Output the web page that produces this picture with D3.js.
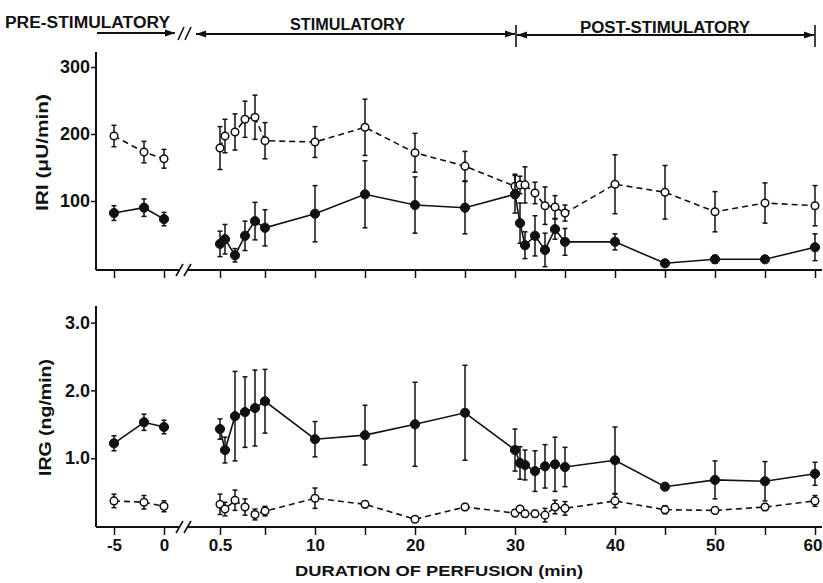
<!DOCTYPE html>
<html>
<head>
<meta charset="utf-8">
<script src="https://cdn.jsdelivr.net/npm/d3@7"></script>
<style>
  body { margin: 0; background: white; }
  text { font-family: "Liberation Sans", Arial, sans-serif; font-weight: bold; fill: #111; }
</style>
</head>
<body>
<svg id="chart" width="823" height="583"></svg>
<script>
// times (min)
var preTimes = [-5, -2, 0];
var mainTimes = [0.5, 1, 2, 3, 4, 5, 10, 15, 20, 25, 30, 30.5, 31, 32, 33, 34, 35, 40, 45, 50, 55, 60];

// IRI (uU/min), filled circles
var iriFilledPre = [82, 90, 73];
var iriFilledPreErr = [11, 13, 10];
var iriFilled = [36, 43, 19, 48, 70, 60, 81, 110, 94, 90, 110, 67, 34, 48, 27, 58, 39, 39, 7, 13, 13, 31];
var iriFilledErr = [19, 22, 10, 22, 28, 27, 42, 50, 42, 39, 28, 30, 20, 30, 25, 15, 20, 12, 3, 6, 4, 20];

// IRI, open circles
var iriOpenPre = [197, 173, 163];
var iriOpenPreErr = [16, 16, 14];
var iriOpen = [179, 197, 203, 222, 225, 190, 188, 210, 172, 152, 122, 124, 124, 112, 93, 91, 82, 125, 113, 84, 97, 93];
var iriOpenErr = [32, 25, 27, 27, 33, 27, 23, 42, 29, 22, 18, 13, 27, 16, 28, 17, 12, 44, 40, 30, 30, 30];

// IRG (ng/min), filled circles
var irgFilledPre = [1.22, 1.53, 1.46];
var irgFilledPreErr = [0.11, 0.12, 0.1];
var irgFilled = [1.43, 1.12, 1.62, 1.68, 1.74, 1.84, 1.28, 1.34, 1.5, 1.67, 1.12, 0.93, 0.9, 0.81, 0.88, 0.91, 0.87, 0.97, 0.58, 0.68, 0.66, 0.77];
var irgFilledErr = [0.15, 0.19, 0.66, 0.52, 0.56, 0.47, 0.26, 0.44, 0.62, 0.7, 0.31, 0.24, 0.22, 0.3, 0.32, 0.4, 0.29, 0.49, 0.05, 0.28, 0.29, 0.17];

// IRG, open circles
var irgOpenPre = [0.37, 0.35, 0.29];
var irgOpenPreErr = [0.1, 0.1, 0.08];
var irgOpen = [0.32, 0.25, 0.38, 0.28, 0.17, 0.22, 0.41, 0.32, 0.1, 0.28, 0.19, 0.25, 0.18, 0.18, 0.16, 0.28, 0.26, 0.37, 0.24, 0.23, 0.28, 0.37];
var irgOpenErr = [0.15, 0.1, 0.15, 0.12, 0.08, 0.07, 0.15, 0.05, 0.04, 0.05, 0.05, 0.05, 0.05, 0.05, 0.1, 0.1, 0.1, 0.1, 0.06, 0.05, 0.05, 0.08];

var preTicks = [-5, 0];
var mainTicks = [0.5, 5, 10, 15, 20, 25, 30, 35, 40, 45, 50, 55, 60];
var mainTickLabels = {0.5: '0.5', 10: '10', 20: '20', 30: '30', 40: '40', 50: '50', 60: '60'};
var iriTicks = [100, 200, 300];
var irgTicks = [1, 2, 3];

var svg = d3.select('#chart');
var ink = '#111';

var xPre = d3.scaleLinear().domain([-5, 0]).range([114, 164]);
var xMain = d3.scaleLinear().domain([0, 60]).range([215, 815]);

var panels = [
    {y: d3.scaleLinear().domain([0, 300]).range([268, 67]), base: 270, top: 52, ticks: iriTicks, fmt: d3.format('d'),
     label: 'IRI (\u03bcU/min)', lx: 42, ly: 153, labels: false,
     series: [
        {pre: iriOpenPre, preErr: iriOpenPreErr, main: iriOpen, err: iriOpenErr, open: true},
        {pre: iriFilledPre, preErr: iriFilledPreErr, main: iriFilled, err: iriFilledErr, open: false}
     ]},
    {y: d3.scaleLinear().domain([0, 3]).range([526, 322.6]), base: 527, top: 306, ticks: irgTicks, fmt: d3.format('.1f'),
     label: 'IRG (ng/min)', lx: 45, ly: 418, labels: true,
     series: [
        {pre: irgOpenPre, preErr: irgOpenPreErr, main: irgOpen, err: irgOpenErr, open: true},
        {pre: irgFilledPre, preErr: irgFilledPreErr, main: irgFilled, err: irgFilledErr, open: false}
     ]}
];

panels.forEach(function(p) {
    var g = svg.append('g');
    var y = p.y;

    // y axis
    var ya = g.append('g').attr('transform', 'translate(96,0)')
        .call(d3.axisLeft(y).tickValues(p.ticks).tickSize(5).tickPadding(1).tickFormat(p.fmt));
    ya.select('.domain').remove();
    ya.selectAll('line').attr('stroke', ink).attr('stroke-width', 1.5);
    ya.selectAll('text').style('font-size', '18px').style('font-family', '"Liberation Sans", Arial, sans-serif').style('font-weight', 'bold').attr('fill', ink);
    g.append('line').attr('x1', 96).attr('x2', 96).attr('y1', p.top).attr('y2', p.base)
        .attr('stroke', ink).attr('stroke-width', 2);

    // x axis, broken
    g.append('line').attr('x1', 96).attr('x2', 179).attr('y1', p.base).attr('y2', p.base).attr('stroke', ink).attr('stroke-width', 2);
    g.append('line').attr('x1', 187).attr('x2', 822).attr('y1', p.base).attr('y2', p.base).attr('stroke', ink).attr('stroke-width', 2);
    [176, 184].forEach(function(sx) {
        g.append('line').attr('x1', sx).attr('y1', p.base + 6).attr('x2', sx + 7).attr('y2', p.base - 6)
            .attr('stroke', ink).attr('stroke-width', 1.6);
    });

    var xa1 = g.append('g').attr('transform', 'translate(0,' + p.base + ')')
        .call(d3.axisBottom(xPre).tickValues(preTicks).tickSize(8).tickPadding(4)
            .tickFormat(function(d) { return p.labels ? (d === -5 ? '-5' : '0') : ''; }));
    var xa2 = g.append('g').attr('transform', 'translate(0,' + p.base + ')')
        .call(d3.axisBottom(xMain).tickValues(mainTicks).tickSize(8).tickPadding(4)
            .tickFormat(function(d) { return p.labels ? (mainTickLabels[d] || '') : ''; }));
    [xa1, xa2].forEach(function(a) {
        a.select('.domain').remove();
        a.selectAll('line').attr('stroke', ink).attr('stroke-width', 1.5);
        a.selectAll('text').style('font-size', '17px').style('font-family', '"Liberation Sans", Arial, sans-serif').style('font-weight', 'bold').attr('fill', ink);
    });
    // last label sits at the right edge: keep it inside
    xa2.selectAll('.tick').filter(function(d) { return d === 60; }).select('text')
        .attr('text-anchor', 'end').attr('x', 7);

    // y label
    g.append('text').attr('transform', 'translate(' + p.lx + ',' + p.ly + ') rotate(-90)')
        .attr('x', -58).attr('dy', '0.35em').attr('textLength', 117).attr('lengthAdjust', 'spacingAndGlyphs')
        .style('font-size', '17px').text(p.label);

    // series
    p.series.forEach(function(s) {
        var segs = [
            {x: xPre, t: preTimes, v: s.pre, e: s.preErr},
            {x: xMain, t: mainTimes, v: s.main, e: s.err}
        ];
        segs.forEach(function(seg) {
            var pts = seg.t.map(function(t, i) { return {t: t, v: seg.v[i], e: seg.e[i]}; });
            var line = d3.line().x(function(d) { return seg.x(d.t); }).y(function(d) { return y(d.v); });
            g.append('path').datum(pts).attr('d', line).attr('fill', 'none')
                .attr('stroke', ink).attr('stroke-width', 1.6)
                .attr('stroke-dasharray', s.open ? '6,4' : null);

            var eb = g.append('g').selectAll('g').data(pts).enter().append('g');
            eb.append('line')
                .attr('x1', function(d) { return seg.x(d.t); }).attr('x2', function(d) { return seg.x(d.t); })
                .attr('y1', function(d) { return y(d.v + d.e); }).attr('y2', function(d) { return y(Math.max(0, d.v - d.e)); })
                .attr('stroke', ink).attr('stroke-width', 1.5);
            [1, -1].forEach(function(sign) {
                eb.append('line')
                    .attr('x1', function(d) { return seg.x(d.t) - 2.5; }).attr('x2', function(d) { return seg.x(d.t) + 2.5; })
                    .attr('y1', function(d) { return y(d.v + sign * d.e); }).attr('y2', function(d) { return y(d.v + sign * d.e); })
                    .attr('stroke', ink).attr('stroke-width', 1.5);
            });

            g.append('g').selectAll('circle').data(pts).enter().append('circle')
                .attr('cx', function(d) { return seg.x(d.t); })
                .attr('cy', function(d) { return y(d.v); })
                .attr('r', s.open ? 3.8 : 4.6)
                .attr('fill', s.open ? 'white' : ink)
                .attr('stroke', ink).attr('stroke-width', s.open ? 1.5 : 1);
        });
    });
});

// x label
svg.append('text').attr('x', 295).attr('y', 576).attr('textLength', 288).attr('lengthAdjust', 'spacingAndGlyphs')
    .style('font-size', '15px').text('DURATION OF PERFUSION (min)');

// period header
var defs = svg.append('defs');
defs.append('marker').attr('id', 'arrow').attr('viewBox', '0 0 10 10').attr('refX', 10).attr('refY', 5)
    .attr('markerWidth', 10).attr('markerHeight', 10).attr('markerUnits', 'userSpaceOnUse')
    .attr('orient', 'auto-start-reverse')
    .append('path').attr('d', 'M0,1.5 L10,5 L0,8.5 Z').attr('fill', ink);

var periods = [
    {name: 'PRE-STIMULATORY', x1: 97, x2: 175, ay: 33, tx: 5, tw: 165, ty: 28, start: false},
    {name: 'STIMULATORY', x1: 196, x2: 515, ay: 34, tx: 290, tw: 115, ty: 30, start: true},
    {name: 'POST-STIMULATORY', x1: 517, x2: 814, ay: 35, tx: 580, tw: 170, ty: 33, start: true}
];
periods.forEach(function(d) {
    svg.append('line').attr('x1', d.x1).attr('x2', d.x2).attr('y1', d.ay).attr('y2', d.ay)
        .attr('stroke', ink).attr('stroke-width', 1.8)
        .attr('marker-end', 'url(#arrow)')
        .attr('marker-start', d.start ? 'url(#arrow)' : null);
    svg.append('text').attr('x', d.tx).attr('y', d.ty).attr('textLength', d.tw).attr('lengthAdjust', 'spacingAndGlyphs')
        .style('font-size', '16px').text(d.name);
});
[516, 815].forEach(function(bx) {
    svg.append('line').attr('x1', bx).attr('x2', bx).attr('y1', 25).attr('y2', 47).attr('stroke', ink).attr('stroke-width', 1.6);
});
[178, 185].forEach(function(sx) {
    svg.append('line').attr('x1', sx).attr('y1', 40).attr('x2', sx + 6).attr('y2', 27).attr('stroke', ink).attr('stroke-width', 1.6);
});
</script>
</body>
</html>
